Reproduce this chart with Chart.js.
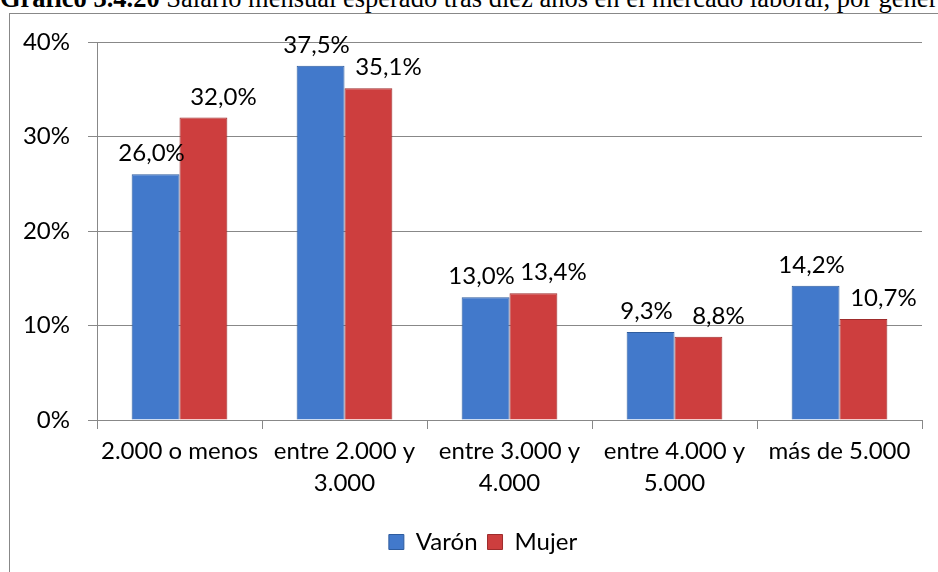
<!DOCTYPE html>
<html lang="es">
<head>
<meta charset="utf-8">
<title>Salario mensual esperado</title>
<script src="https://cdn.jsdelivr.net/npm/chart.js@4.4.1/dist/chart.umd.min.js"></script>
<style>
  html, body { margin: 0; padding: 0; background: #fff; overflow: hidden; }
  #page { position: relative; width: 938px; height: 572px; overflow: hidden; }
  #titulo {
    position: absolute; left: 0; top: -15px; white-space: nowrap;
    font-family: "Liberation Serif", "DejaVu Serif", serif; font-size: 26.5px; line-height: 26px; color: #000;
  }
  #marco {
    position: absolute; left: 9px; top: 13px; width: 1000px; height: 600px;
    border: 1px solid #888; box-sizing: border-box;
  }
  #grafico { position: absolute; left: 0; top: 0; }
</style>
</head>
<body>
<div id="page">
  <div id="titulo"><b>Gráfico 3.4.20</b> Salario mensual esperado tras diez años en el mercado laboral, por género</div>
  <div id="marco"></div>
  <canvas id="grafico" width="938" height="572"></canvas>
</div>
<script>
// Rangos de salario y porcentajes por género
const categorias = [
  '2.000 o menos',
  ['entre 2.000 y', '3.000'],
  ['entre 3.000 y', '4.000'],
  ['entre 4.000 y', '5.000'],
  'más de 5.000'
];
const varon = [26.0, 37.5, 13.0, 9.3, 14.2];
const mujer = [32.0, 35.1, 13.4, 8.8, 10.7];
const ticksY = [0, 10, 20, 30, 40];

const FUENTE = 'Lato, "Open Sans", sans-serif';

function formatoPct(v) {
  return v.toFixed(1).replace('.', ',') + '%';
}

// Etiquetas de valor encima de cada barra
const etiquetasValor = {
  id: 'etiquetasValor',
  afterDatasetsDraw(chart) {
    const ctx = chart.ctx;
    ctx.save();
    ctx.font = '24px ' + FUENTE;
    ctx.fillStyle = '#000';
    ctx.textAlign = 'center';
    ctx.textBaseline = 'alphabetic';
    chart.data.datasets.forEach((ds, i) => {
      const desplaza = i === 0 ? -4 : 20;
      chart.getDatasetMeta(i).data.forEach((bar, j) => {
        ctx.fillText(formatoPct(ds.data[j]), bar.x + desplaza, bar.y - 13);
      });
    });
    ctx.restore();
  }
};

// El eje Y es estrecho para centrar la leyenda; se amplía su zona de recorte
// para que las etiquetas de porcentaje no se corten por la izquierda
const ejeYAncho = {
  id: 'ejeYAncho',
  afterLayout(chart) {
    chart.scales.y.left = 0;
  }
};

new Chart(document.getElementById('grafico'), {
  type: 'bar',
  data: {
    labels: categorias,
    datasets: [
      {
        label: 'Varón',
        data: varon,
        backgroundColor: '#4279CB',
        borderColor: '#2E5C9E',
        borderWidth: 1
      },
      {
        label: 'Mujer',
        data: mujer,
        backgroundColor: '#CD3E3E',
        borderColor: '#9E2C2C',
        borderWidth: 1
      }
    ]
  },
  options: {
    responsive: false,
    animation: false,
    layout: { padding: { left: 44, right: 16, top: 42, bottom: 8 } },
    datasets: {
      bar: { categoryPercentage: 0.58, barPercentage: 1.0 }
    },
    scales: {
      x: {
        grid: { drawOnChartArea: false, drawTicks: true, tickLength: 9, color: '#888', offset: true },
        border: { display: true, color: '#888' },
        ticks: {
          color: '#000', maxRotation: 0, autoSkip: false, padding: 6,
          font: { family: FUENTE, size: 24, lineHeight: 1.35 }
        },
        afterFit(scale) { scale.height = 100; }
      },
      y: {
        min: 0,
        max: 40,
        afterBuildTicks(scale) { scale.ticks = ticksY.map(v => ({ value: v })); },
        grid: { color: '#888', tickLength: 9 },
        border: { display: true, color: '#888' },
        ticks: {
          color: '#000', padding: 18,
          font: { family: FUENTE, size: 24 },
          callback: v => v + '%'
        },
        afterFit(scale) { scale.width = 53; }
      }
    },
    plugins: {
      legend: {
        position: 'bottom',
        labels: {
          color: '#000', boxWidth: 15, boxHeight: 15, padding: 10,
          font: { family: FUENTE, size: 24 }
        }
      },
      tooltip: { enabled: false }
    }
  },
  plugins: [etiquetasValor, ejeYAncho]
});
</script>
</body>
</html>
